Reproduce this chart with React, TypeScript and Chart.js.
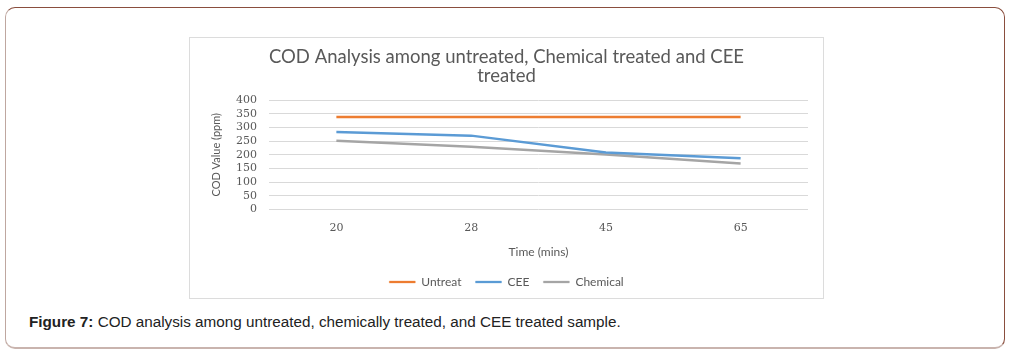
import React, { useEffect, useRef } from "react";
import { Chart, registerables } from "chart.js";

Chart.register(...registerables);

const titleLines = ["COD Analysis among untreated, Chemical treated and CEE", "treated"];
const categories = ["20", "28", "45", "65"];
const untreat = [338, 338, 338, 338];
const cee = [283, 270, 208, 187];
const chemical = [251, 229, 201, 168];
const yMin = 0;
const yMax = 400;
const yStep = 50;
const xTitle = "Time (mins)";
const yTitle = "COD Value (ppm)";
const caption = "COD analysis among untreated, chemically treated, and CEE treated sample.";

const SANS = "Lato, 'Open Sans', sans-serif";
const SERIF = "'DejaVu Serif', serif";
const TXT = "#595959";

export default function App() {
  const ref = useRef<HTMLCanvasElement | null>(null);
  useEffect(() => {
    if (!ref.current) return;
    const chart = new Chart(ref.current, {
      type: "line",
      data: {
        labels: categories,
        datasets: [
          { label: "Untreat", data: untreat, borderColor: "#ED7D31", backgroundColor: "#ED7D31", borderWidth: 2.5, pointRadius: 0, tension: 0 },
          { label: "CEE", data: cee, borderColor: "#5B9BD5", backgroundColor: "#5B9BD5", borderWidth: 2.5, pointRadius: 0, tension: 0 },
          { label: "Chemical", data: chemical, borderColor: "#A5A5A5", backgroundColor: "#A5A5A5", borderWidth: 2.5, pointRadius: 0, tension: 0 },
        ],
      },
      options: {
        responsive: false,
        animation: false,
        devicePixelRatio: 1,
        layout: { padding: { left: 0, right: 0, top: 0, bottom: 0 } },
        plugins: {
          tooltip: { enabled: false },
          title: {
            display: true,
            text: titleLines,
            color: TXT,
            font: { family: SANS, size: 18.5, weight: "normal", lineHeight: 1.03 },
            padding: { top: 9.5, bottom: 14.5 },
          },
          legend: {
            display: true,
            position: "bottom",
            labels: {
              color: TXT,
              font: { family: SANS, size: 12 },
              boxWidth: 26,
              boxHeight: 2,
              padding: 14,
              generateLabels: (c: any) => {
                const items = Chart.defaults.plugins.legend.labels.generateLabels(c);
                return items.map((it: any) => ({ ...it, lineWidth: 0.3 }));
              },
            },
          },
        },
        scales: {
          x: {
            type: "category",
            offset: true,
            grid: { display: false, drawTicks: false },
            border: { display: false },
            ticks: { color: TXT, font: { family: SERIF, size: 11 }, padding: 12.5, maxRotation: 0 },
            title: { display: true, text: xTitle, color: TXT, font: { family: SANS, size: 12 }, padding: { top: 0, bottom: 2.4 } },
            afterFit: (s: any) => { s.height = 52.6; },
          },
          y: {
            min: yMin,
            max: yMax,
            grid: { color: "#d9d9d9", lineWidth: 1, drawTicks: false },
            border: { display: false },
            ticks: { stepSize: yStep, autoSkip: false, color: TXT, font: { family: SERIF, size: 11 }, padding: 12 },
            title: { display: true, text: yTitle, color: TXT, font: { family: SANS, size: 11 }, padding: { top: 19.4, bottom: 0 } },
            afterFit: (s: any) => { s.width = 79; },
          },
          yRight: {
            position: "right",
            display: true,
            grid: { display: false, drawTicks: false },
            border: { display: false },
            ticks: { display: false },
            afterFit: (s: any) => { s.width = 15; },
          },
        },
      },
    });
    return () => chart.destroy();
  }, []);

  return (
    <div style={{ position: "absolute", left: 0, top: 0, width: 1014, height: 363, background: "#fff", overflow: "hidden" }}>
      <div
        style={{
          position: "absolute",
          left: 5,
          top: 7,
          width: 1000,
          height: 342,
          boxSizing: "border-box",
          borderRadius: 10,
          borderTop: "1.5px solid #8a4e3e",
          borderRight: "1.5px solid #8a4e3e",
          borderLeft: "1.5px solid #bfa7a0",
          borderBottom: "2.5px solid #c9b4ae",
        }}
      />
      <div
        style={{
          position: "absolute",
          left: 189,
          top: 37,
          width: 635,
          height: 262,
          boxSizing: "border-box",
          border: "1px solid #dcdcdc",
          background: "#fff",
        }}
      >
        <canvas ref={ref} width={633} height={260} style={{ display: "block", width: 633, height: 260 }} />
      </div>
      <div
        style={{
          position: "absolute",
          left: 29,
          top: 313,
          whiteSpace: "nowrap",
          fontFamily: "'Liberation Sans', Arial, sans-serif",
          fontSize: 15.25,
          lineHeight: "18px",
          color: "#222",
        }}
      >
        <b>Figure 7:</b> {caption}
      </div>
    </div>
  );
}
